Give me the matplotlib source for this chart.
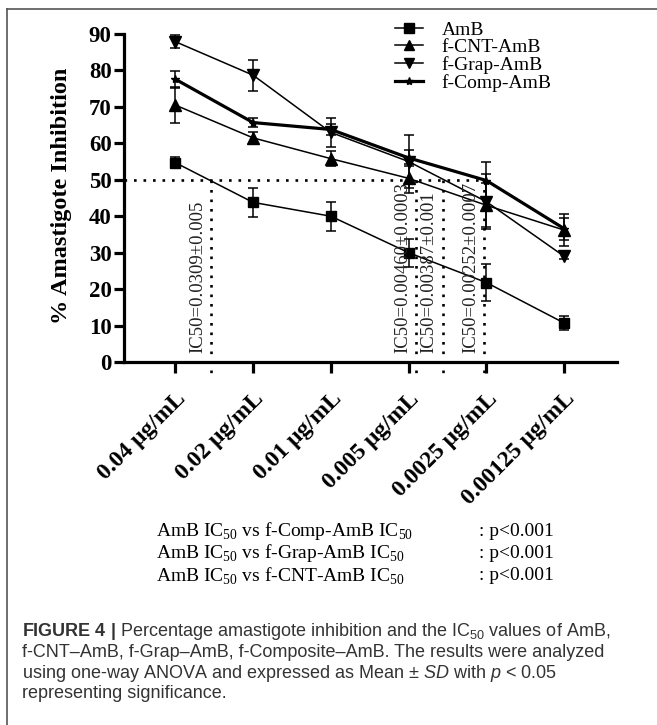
import matplotlib
matplotlib.use("Agg")
import matplotlib.pyplot as plt
from matplotlib.lines import Line2D
import matplotlib.transforms as mtransforms

# ---------------- data ----------------
categories = ["0.04 μg/mL", "0.02 μg/mL", "0.01 μg/mL",
              "0.005 μg/mL", "0.0025 μg/mL", "0.00125 μg/mL"]

amb = [54.7, 43.8, 40.0, 30.0, 21.8, 10.7]
amb_sd = [1.5, 4.0, 4.0, 3.8, 5.0, 1.8]

cnt = [70.5, 61.5, 55.8, 50.4, 43.0, 36.2]
cnt_sd = [5.0, 1.6, 2.0, 4.0, 6.0, 4.5]

grap = [87.9, 78.7, 63.0, 55.0, 44.0, 29.0]
grap_sd = [1.8, 4.3, 4.0, 7.3, 7.5, 0.8]

comp = [77.6, 65.7, 63.8, 56.0, 49.8, 36.6]
comp_sd = [2.3, 1.2, 1.5, 2.2, 5.0, 3.0]

ic50_pos = [0.457, 3.10, 3.44, 3.97]
ic50_labels = ["IC50=0.0309±0.005", "IC50=0.00460±0.0003",
               "IC50=0.00387±0.001", "IC50=0.00252±0.0007"]
ic50_level = 50

comparisons = [r"AmB IC$_{50}$ vs f-Comp-AmB IC$_{50}$",
               r"AmB IC$_{50}$ vs f-Grap-AmB IC$_{50}$",
               r"AmB IC$_{50}$ vs f-CNT-AmB IC$_{50}$"]
p_values = [": p<0.001", ": p<0.001", ": p<0.001"]

caption = [
    r"$\mathbf{FIGURE\ 4\ |}$ Percentage amastigote inhibition and the IC$_{\mathsf{50}}$ values of AmB,",
    "f-CNT–AmB, f-Grap–AmB, f-Composite–AmB. The results were analyzed",
    r"using one-way ANOVA and expressed as Mean ± $\mathit{SD}$ with $\mathit{p}$ < 0.05",
    "representing significance.",
]

# ---------------- style ----------------
plt.rcParams.update({
    "font.family": "Liberation Serif",
    "mathtext.fontset": "custom",
    "mathtext.rm": "Liberation Serif",
    "mathtext.it": "Liberation Sans:italic",
    "mathtext.bf": "Liberation Sans:bold",
    "mathtext.sf": "Liberation Sans",
})

W, H = 657, 725
fig = plt.figure(figsize=(W / 100, H / 100), dpi=100)
ax = fig.add_axes([124 / W, 1 - 362 / H, (617 - 124) / W, (362 - 34) / H])

x = list(range(len(categories)))
thin = 1.1
eb = dict(color="black", elinewidth=1.1, capsize=3.5, capthick=1.1)

ax.errorbar(x, amb, yerr=amb_sd, marker="s", ms=7.5, lw=thin, **eb)
ax.errorbar(x, cnt, yerr=cnt_sd, marker="^", ms=8, lw=thin, **eb)
ax.errorbar(x, grap, yerr=grap_sd, marker="v", ms=8, lw=thin, **eb)
ax.errorbar(x, comp, yerr=comp_sd, marker="*", ms=6, lw=2.3, **eb)

ax.set_xlim(-0.66, 5.68)
ax.set_ylim(0, 90)
ax.set_yticks(range(0, 91, 10))
ax.set_xticks(x)
ax.set_xticklabels(categories, rotation=45, ha="right", va="top",
                   rotation_mode="anchor", fontsize=17, fontweight="bold")
for lab in ax.get_yticklabels():
    lab.set_fontsize(16.5)
    lab.set_fontweight("bold")

for s in ["top", "right"]:
    ax.spines[s].set_visible(False)
for s in ["left", "bottom"]:
    ax.spines[s].set_linewidth(2.3)
ax.tick_params(axis="x", length=8, width=2.3, pad=11)
ax.tick_params(axis="y", length=7, width=2.3, pad=2)

# IC50 dotted guides
dot = (0, (1, 2.6))
ax.plot([ax.get_xlim()[0], ic50_pos[-1]], [ic50_level, ic50_level],
        ls=dot, lw=1.9, color="black", clip_on=False)
txt_tr = mtransforms.offset_copy(ax.transData, fig=fig, x=-5, y=0, units="dots")
for pos, lab in zip(ic50_pos, ic50_labels):
    ax.plot([pos, pos], [ic50_level, -4], ls=dot, lw=1.9, color="black",
            clip_on=False)
    ax.text(pos, 2.5, lab, transform=txt_tr, rotation=90, ha="right",
            va="bottom", fontsize=13.5, color="#222222")

fig.text(62 / W, 1 - 196 / H, "% Amastigote Inhibition", rotation=90,
         ha="center", va="center", fontsize=17.5, fontweight="bold")

# legend
handles = [
    Line2D([], [], color="black", lw=thin, marker="s", ms=7),
    Line2D([], [], color="black", lw=thin, marker="^", ms=7),
    Line2D([], [], color="black", lw=thin, marker="v", ms=7),
    Line2D([], [], color="black", lw=2.3, marker="*", ms=6),
]
fig.legend(handles, ["AmB", "f-CNT-AmB", "f-Grap-AmB", "f-Comp-AmB"],
           loc="upper left", bbox_to_anchor=(395 / W, 1 - 21 / H),
           frameon=False, prop={"family": "Liberation Serif", "size": 14},
           handlelength=1.45, handletextpad=0.95, labelspacing=0.0,
           borderpad=0, borderaxespad=0)

# comparisons
for i, (c, p) in enumerate(zip(comparisons, p_values)):
    yy = 1 - (531 + 22.5 * i) / H
    fig.text(156 / W, yy, c, fontsize=14, va="center", ha="left")
    fig.text(479 / W, yy, p, fontsize=14, va="center", ha="left")

# caption
for i, line in enumerate(caption):
    yy = 1 - (632 + 20.5 * i) / H
    fig.text(22 / W, yy, line, fontfamily="Liberation Sans", fontsize=13,
             color="#333333", va="center", ha="left")

# frame
fig.add_artist(Line2D([7 / W, 7 / W], [0, 1 - 9 / H], transform=fig.transFigure,
                      color="#555555", lw=1.2))
fig.add_artist(Line2D([7 / W, 1], [1 - 9 / H, 1 - 9 / H], transform=fig.transFigure,
                      color="#555555", lw=1.2))

fig.savefig("out.png", dpi=100)
